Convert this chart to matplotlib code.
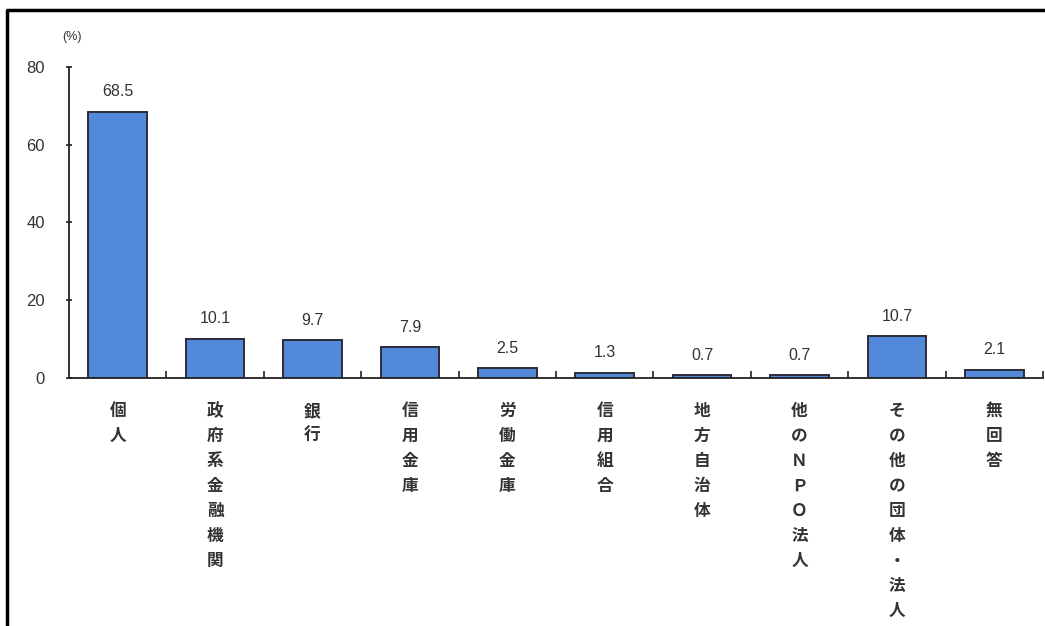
import matplotlib
matplotlib.use("Agg")
import matplotlib.pyplot as plt
from matplotlib.lines import Line2D
from matplotlib.transforms import blended_transform_factory, offset_copy

# Lending sources (%) for NPO corporations
categories = ["個人", "政府系金融機関", "銀行", "信用金庫", "労働金庫",
              "信用組合", "地方自治体", "他のＮＰＯ法人", "その他の団体・法人", "無回答"]
values = [68.5, 10.1, 9.7, 7.9, 2.5, 1.3, 0.7, 0.7, 10.7, 2.1]
value_labels = ["68.5", "10.1", "9.7", "7.9", "2.5", "1.3", "0.7", "0.7", "10.7", "2.1"]
yticks = [0, 20, 40, 60, 80]

W, H = 1045, 626
fig = plt.figure(figsize=(W / 100, H / 100), dpi=100)
fig.patch.set_facecolor("white")

ax = fig.add_axes([69 / W, 1 - 378 / H, (1043 - 69) / W, (378 - 67) / H])

text_color = "#333333"
num_font = "Liberation Sans"
cjk_font = ["Noto Sans CJK JP", "DejaVu Sans"]

x = list(range(len(categories)))
ax.bar(x, values, width=0.6, color="#5289d8", edgecolor="#2b2b3a",
       linewidth=1.4, zorder=2)

ax.set_xlim(-0.5, len(categories) - 0.5)
ax.set_ylim(0, 80)

for s in ("top", "right"):
    ax.spines[s].set_visible(False)
for s in ("left", "bottom"):
    ax.spines[s].set_color("#222222")
    ax.spines[s].set_linewidth(1.3)

ax.set_yticks(yticks)
ax.set_yticklabels([str(t) for t in yticks], fontfamily=num_font,
                   fontsize=12, color=text_color)
ax.tick_params(axis="y", direction="inout", length=5, width=1.2,
               pad=15, colors="#222222", labelcolor=text_color)

# Small upward ticks at category boundaries
ax.set_xticks([i + 0.5 for i in range(len(categories))])
ax.set_xticklabels([])
ax.tick_params(axis="x", direction="in", length=5, width=1.2, colors="#222222")

# Value labels above each bar
for xi, v, lab in zip(x, values, value_labels):
    ax.annotate(lab, (xi, v), xytext=(0, 9), textcoords="offset points",
                ha="center", va="bottom", fontfamily=num_font,
                fontsize=11.5, color=text_color)

# Vertical (stacked) category labels
trans = blended_transform_factory(ax.transData, ax.transAxes)
for xi, name in zip(x, categories):
    for k, ch in enumerate(name):
        t = offset_copy(trans, fig=fig, x=0, y=-(33 + 25 * k), units="dots")
        ax.text(xi, 0, ch, transform=t, ha="center", va="center",
                fontfamily=cjk_font, fontsize=12, fontweight="bold",
                color=text_color)

# Unit label
fig.text(72 / W, 1 - 37 / H, "(%)", ha="center", va="center",
         fontfamily=num_font, fontsize=9, color=text_color)

# Frame lines along the top and left edges
fig.add_artist(Line2D([7 / W, 7 / W, 1.0], [0.0, 1 - 10 / H, 1 - 10 / H],
                      transform=fig.transFigure, color="black", linewidth=2.5))

fig.savefig("out.png", dpi=100, facecolor="white")
